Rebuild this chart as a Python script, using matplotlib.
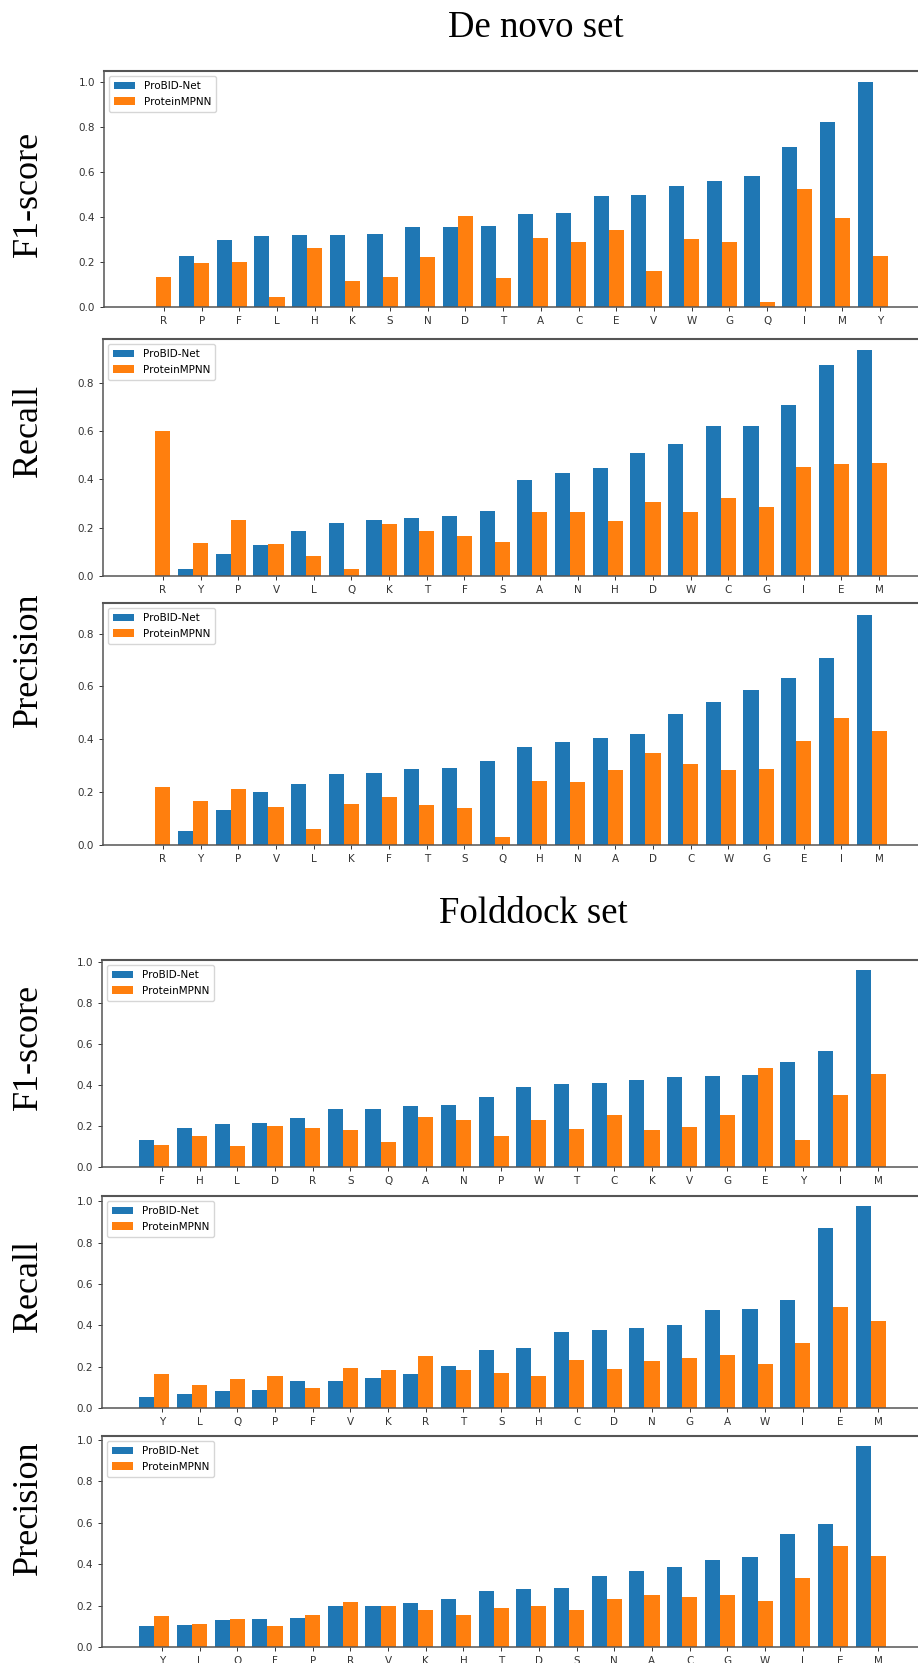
import matplotlib
matplotlib.use("Agg")
import matplotlib.pyplot as plt
import numpy as np

# ---------------- data ----------------
dn_f1_labels = list("RPFLHKSNDTACEVWGQIMY")
dn_f1_probid = [0.0, 0.225, 0.296, 0.317, 0.321, 0.321, 0.323, 0.354, 0.357, 0.360,
                0.412, 0.419, 0.495, 0.498, 0.539, 0.559, 0.581, 0.711, 0.822, 1.000]
dn_f1_mpnn = [0.135, 0.196, 0.201, 0.046, 0.264, 0.117, 0.135, 0.221, 0.407, 0.129,
              0.307, 0.287, 0.341, 0.161, 0.302, 0.290, 0.024, 0.526, 0.397, 0.225]

dn_rec_labels = list("RYPVLQKTFSANHDWCGIEM")
dn_rec_probid = [0.0, 0.028, 0.093, 0.128, 0.187, 0.221, 0.232, 0.239, 0.250, 0.267,
                 0.399, 0.428, 0.445, 0.511, 0.547, 0.619, 0.622, 0.707, 0.873, 0.934]
dn_rec_mpnn = [0.601, 0.137, 0.232, 0.131, 0.083, 0.030, 0.214, 0.185, 0.164, 0.142,
               0.265, 0.265, 0.228, 0.307, 0.265, 0.322, 0.285, 0.449, 0.463, 0.466]

dn_pre_labels = list("RYPVLKFTSQHNADCWGEIM")
dn_pre_probid = [0.0, 0.053, 0.131, 0.202, 0.232, 0.268, 0.271, 0.288, 0.291, 0.317,
                 0.372, 0.389, 0.406, 0.421, 0.497, 0.540, 0.585, 0.631, 0.708, 0.872]
dn_pre_mpnn = [0.218, 0.167, 0.211, 0.144, 0.059, 0.154, 0.180, 0.153, 0.139, 0.029,
               0.241, 0.238, 0.284, 0.348, 0.305, 0.284, 0.288, 0.392, 0.482, 0.430]

fd_f1_labels = list("FHLDRSQANPWTCKVGEYIM")
fd_f1_probid = [0.134, 0.191, 0.212, 0.217, 0.241, 0.282, 0.283, 0.296, 0.305, 0.340,
                0.391, 0.406, 0.410, 0.427, 0.438, 0.445, 0.448, 0.513, 0.568, 0.964]
fd_f1_mpnn = [0.106, 0.150, 0.104, 0.200, 0.189, 0.181, 0.121, 0.246, 0.230, 0.150,
              0.231, 0.184, 0.256, 0.179, 0.194, 0.256, 0.484, 0.134, 0.353, 0.456]

fd_rec_labels = list("YLQPFVKRTSHCDNGAWIEM")
fd_rec_probid = [0.053, 0.069, 0.084, 0.087, 0.129, 0.130, 0.143, 0.164, 0.203, 0.280,
                 0.290, 0.366, 0.377, 0.386, 0.403, 0.475, 0.478, 0.522, 0.868, 0.976]
fd_rec_mpnn = [0.166, 0.110, 0.142, 0.156, 0.097, 0.193, 0.182, 0.250, 0.185, 0.169,
               0.153, 0.233, 0.190, 0.229, 0.240, 0.254, 0.213, 0.316, 0.486, 0.422]

fd_pre_labels = list("YLQFPRVKHTDSNACGWIEM")
fd_pre_probid = [0.100, 0.108, 0.132, 0.135, 0.141, 0.198, 0.199, 0.214, 0.232, 0.272,
                 0.278, 0.283, 0.342, 0.367, 0.386, 0.421, 0.434, 0.545, 0.593, 0.971]
fd_pre_mpnn = [0.150, 0.111, 0.135, 0.103, 0.155, 0.217, 0.196, 0.178, 0.156, 0.188,
               0.196, 0.177, 0.230, 0.251, 0.243, 0.249, 0.220, 0.334, 0.486, 0.441]

series_names = ["ProBID-Net", "ProteinMPNN"]
section_titles = ["De novo set", "Folddock set"]
metric_names = ["F1-score", "Recall", "Precision"]

# ---------------- layout ----------------
W, H = 918, 1663
fig = plt.figure(figsize=(W / 100, H / 100), dpi=100)
fig.patch.set_facecolor("white")

serif = ["Liberation Serif", "DejaVu Serif"]

panels = [
    (dn_f1_labels, dn_f1_probid, dn_f1_mpnn, 71, 307, 104, metric_names[0], 194),
    (dn_rec_labels, dn_rec_probid, dn_rec_mpnn, 339, 576, 103, metric_names[1], 431),
    (dn_pre_labels, dn_pre_probid, dn_pre_mpnn, 603, 845, 103, metric_names[2], 660),
    (fd_f1_labels, fd_f1_probid, fd_f1_mpnn, 960, 1167, 102, metric_names[0], 1047),
    (fd_rec_labels, fd_rec_probid, fd_rec_mpnn, 1196, 1408, 102, metric_names[1], 1286),
    (fd_pre_labels, fd_pre_probid, fd_pre_mpnn, 1436, 1647, 102, metric_names[2], 1508),
]

blue = "#1f77b4"
orange = "#ff7f0e"
bw = 0.4
axes_w_px = 821

for labels, a, b, top, bot, left, ylab, ylab_y in panels:
    ax = fig.add_axes([left / W, 1 - bot / H, axes_w_px / W, (bot - top) / H])
    x = np.arange(len(labels))
    ax.bar(x - bw, a, width=bw, color=blue, label=series_names[0])
    ax.bar(x, b, width=bw, color=orange, label=series_names[1])
    ax.set_xticks(x)
    ax.set_xticklabels(labels)
    ax.tick_params(axis="both", labelsize=7.5, length=3, width=0.7, colors="#333333")
    for s in ax.spines.values():
        s.set_color("#555555")
        s.set_linewidth(1.1)
    ax.spines["top"].set_linewidth(1.5)
    ax.legend(loc="upper left", fontsize=7.5, frameon=True, fancybox=True,
              edgecolor="#cccccc", handlelength=2.0, borderpad=0.5)
    fig.text(28 / W, 1 - ylab_y / H, ylab, rotation=90, ha="center", va="center",
             fontsize=26, family=serif)

fig.text(536 / W, 1 - 37 / H, section_titles[0], ha="center", va="baseline",
         fontsize=26.5, family=serif)
fig.text(533 / W, 1 - 923 / H, section_titles[1], ha="center", va="baseline",
         fontsize=26.5, family=serif)

fig.savefig("out.png", dpi=100, facecolor="white")
